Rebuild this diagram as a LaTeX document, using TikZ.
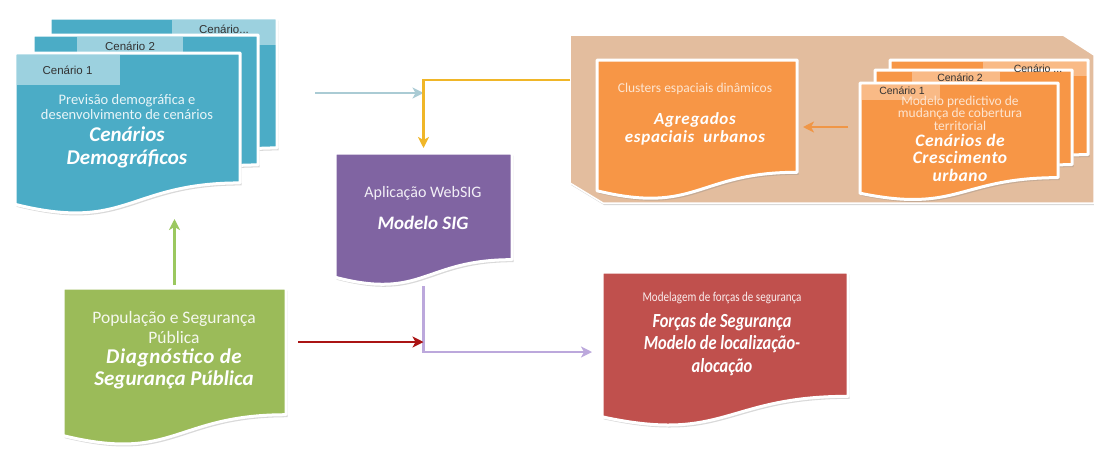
\documentclass[tikz,border=0pt]{standalone}
\usepackage{fontspec}
\setmainfont{Carlito}
\newfontfamily\arialf{Liberation Sans}
\newfontfamily\condf{Carlito}[FakeStretch=0.82]
\usetikzlibrary{shadows,arrows.meta,calc}
\definecolor{cblue}{RGB}{75,172,198}
\definecolor{cgreen}{RGB}{155,187,89}
\definecolor{cpurple}{RGB}{128,100,162}
\definecolor{cred}{RGB}{192,80,77}
\definecolor{corange}{RGB}{247,150,70}
\definecolor{ctan}{RGB}{227,189,158}
\definecolor{agray}{RGB}{170,203,212}
\definecolor{ayellow}{RGB}{240,182,40}
\definecolor{ared}{RGB}{170,20,20}
\definecolor{alav}{RGB}{188,168,220}
\definecolor{agreen}{RGB}{155,200,95}
\definecolor{aorange}{RGB}{240,150,70}
\newcommand\fsz[2]{\fontsize{#1}{#2}\selectfont}
\newcommand\docshape[2]{%
  \path[docfill=#2] (#1.north west) -- (#1.north east)
   -- ($(#1.north east)!0.802!(#1.south east)$)
   .. controls ($(#1.north)!0.802!(#1.south)$) and ($(#1.north)!1.107!(#1.south)$)
   .. ($(#1.north west)!0.934!(#1.south west)$) -- cycle;}
\tikzset{
  frame/.style 2 args={rectangle, inner sep=0pt, outer sep=0pt,
    minimum width=#1, minimum height=#2, anchor=north west},
  docfill/.style={fill=#1, draw=white, line width=3pt, line join=round,
    drop shadow={opacity=0.3, shadow xshift=1.5pt, shadow yshift=-2.5pt}},
  tabfill/.style={fill=white, fill opacity=#1},
  tablabel/.style={inner sep=0pt, text=black!80, font=\arialf\fsz{#1}{13}},
  txt/.style={align=center, text=white, inner sep=0pt},
  conn/.style={line width=2.8pt, -{Stealth[length=11pt,width=11pt,inset=3pt]}},
}
\begin{document}
\begin{tikzpicture}[x=1pt,y=-1pt]
\useasboundingbox (0,0) rectangle (1094,453);
% frames (shape extents)
\node[frame={227pt}{162pt}] (bb3) at (50,18) {};
\node[frame={225pt}{162pt}] (bb2) at (33,35) {};
\node[frame={225pt}{162pt}] (bb1) at (15,53) {};
\node[frame={223pt}{158pt}] (green) at (63,288) {};
\node[frame={177pt}{133pt}] (sig) at (335,153) {};
\node[frame={246pt}{155pt}] (red) at (602,272) {};
\node[frame={524pt}{168pt}] (urb) at (570,35) {};
\node[frame={200pt}{140pt}] (agg) at (597,60) {};
\node[frame={198pt}{118pt}] (ob3) at (890,60) {};
\node[frame={197pt}{118pt}] (ob2) at (875,70) {};
\node[frame={198pt}{118pt}] (ob1) at (860,83) {};
\coordinate (yr) at (0,342);
\coordinate (yp) at (0,352);
\coordinate (gs) at (315,93);
\coordinate (yy) at (0,80);
\coordinate (yo) at (0,127);
% tan background
\path[fill=ctan, draw=white, line width=1.5pt,
  drop shadow={opacity=0.3, shadow xshift=1pt, shadow yshift=-2pt}]
  (urb.north west) -- ([xshift=-31pt]urb.north east) -- ([yshift=-20pt]urb.north east)
  -- (urb.south east) -- ([xshift=33pt]urb.south west) -- ([yshift=20pt]urb.south west) -- cycle;
% connectors
\draw[conn, alav, shorten >=10pt] (sig.south) |- (red.west |- yp);
\draw[conn, ared, shorten <=12pt] (green.east |- yr) -- (sig.south |- yr);
\draw[conn, agreen, shorten <=3pt, shorten >=4pt] (green.north) -- (bb1.south -| green.north);
\draw[conn, agray] (gs) -- (gs -| sig.north);
\draw[conn, ayellow, shorten >=5pt] (urb.west |- yy) -| (sig.north);
\draw[conn, aorange, shorten <=12pt, shorten >=6pt] (ob1.west |- yo) -- (agg.east |- yo);
% blue stack
\docshape{bb3}{cblue}
\fill[tabfill=0.45] (172,19.5) rectangle (275.5,45);
\docshape{bb2}{cblue}
\fill[tabfill=0.45] (77,36.5) rectangle (183,61);
\docshape{bb1}{cblue}
\fill[tabfill=0.45] (16.5,54.5) rectangle (120,85);
\node[tablabel=11.5] (t3) at (224,29.5) {Cenário...};
\node[tablabel=11.5] (t2) at (130,46) {Cenário 2};
\node[tablabel=11.5] (t1) at (67.5,70) {Cenário 1};
\node[txt, text=white!88!cblue, font=\fsz{14.5}{15.5}] (bs) at (127,107) {Previsão demográfica e\\desenvolvimento de cenários};
\node[txt, font=\bfseries\itshape\fsz{21}{23}] (bt) at (127,147) {Cenários\\Demográficos};
% green
\docshape{green}{cgreen}
\node[txt, text=white!90!cgreen, font=\fsz{17.5}{20}] (gsm) at (174,327) {População e Segurança\\Pública};
\node[txt, font=\bfseries\itshape\fsz{21}{22}] (gbg) at (174,369) {{\addfontfeature{LetterSpace=3}Diagnóstico de}\\Segurança Pública};
% purple
\docshape{sig}{cpurple}
\node[txt, text=white!90!cpurple, font=\fsz{16}{17}] (ps) at (423,193) {Aplicação WebSIG};
\node[txt, font=\bfseries\itshape\fsz{19}{21}] (pb) at (423,223) {Modelo SIG};
% red
\docshape{red}{cred}
\node[txt, text=white!90!cred, font=\condf\fsz{13.5}{14}] (rs) at (722,298) {Modelagem de forças de segurança};
\node[txt, font=\condf\bfseries\itshape\fsz{20}{22.5}] (rb) at (722,344.5) {Forças de Segurança\\Modelo de localização-\\alocação};
% agregados
\docshape{agg}{corange}
\node[txt, text=white!75!corange, font=\fsz{13.5}{13}] (as) at (695,89) {Clusters espaciais dinâmicos};
\node[txt, font=\bfseries\itshape\fsz{17}{18}\addfontfeature{LetterSpace=4}] (ab) at (695,129) {Agregados\\espaciais\ \ urbanos};
% orange stack
\docshape{ob3}{corange}
\fill[tabfill=0.35] (983,61.5) rectangle (1086.5,76);
\docshape{ob2}{corange}
\fill[tabfill=0.35] (912,71.5) rectangle (1000,86);
\docshape{ob1}{corange}
\fill[tabfill=0.35] (861.5,84.5) rectangle (940,100);
\node[tablabel=10.5] (o3) at (1038,69) {Cenário ...};
\node[tablabel=10.5] (o2) at (960,78) {Cenário 2};
\node[tablabel=10.5] (o1) at (902,90.5) {Cenário 1};
\node[txt, text=white!75!corange, font=\fsz{13.5}{11}] (os) at (960,113) {Modelo predictivo de\\mudança de cobertura\\territorial};
\node[txt, font=\bfseries\itshape\fsz{17.5}{17.5}\addfontfeature{LetterSpace=3}] (ob) at (960,157.5) {Cenários de\\Crescimento\\urbano};
\end{tikzpicture}
\end{document}
